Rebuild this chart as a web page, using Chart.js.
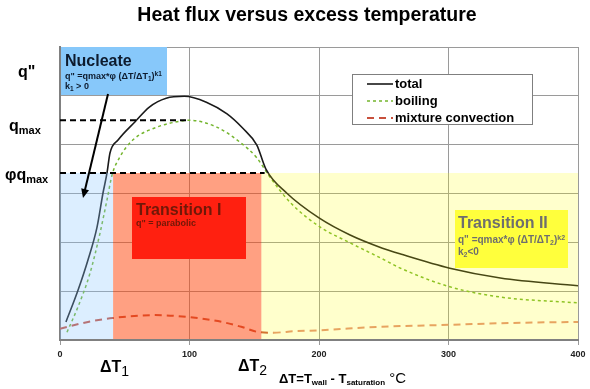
<!DOCTYPE html>
<html><head><meta charset="utf-8">
<script src="https://cdn.jsdelivr.net/npm/chart.js@4.4.0/dist/chart.umd.min.js"></script>
<style>html,body{margin:0;padding:0;background:#fff;}#wrap{width:590px;height:389px;}</style>
</head><body><div id="wrap"><canvas id="c" width="590" height="389"></canvas></div>
<script>
// ---- data ----
const xTicks = [0, 100, 200, 300, 400];
const totalX = [4.6, 13.9, 21.6, 28.6, 33.2, 36.3, 38.6, 45, 58, 69, 82, 96, 113, 129, 141, 152, 159, 175, 200, 224, 249, 263, 301, 340, 400];
const totalY = [0.37, 1.02, 1.64, 2.31, 3.01, 3.42, 3.83, 4.1, 4.47, 4.77, 4.95, 4.99, 4.87, 4.63, 4.34, 3.99, 3.5, 3.01, 2.5, 2.15, 1.88, 1.76, 1.47, 1.27, 1.11];
const boilX = [5.4, 13.9, 23.2, 30.9, 36.3, 40.2, 46.3, 56.4, 74.9, 92.7, 100, 121, 139, 152, 162, 178, 201, 224, 249, 263, 301, 340, 400];
const boilY = [0.16, 0.68, 1.37, 2.19, 2.87, 3.38, 3.75, 4.10, 4.36, 4.48, 4.5, 4.36, 4.05, 3.73, 3.34, 2.81, 2.31, 1.99, 1.66, 1.47, 1.09, 0.88, 0.76];
const mixX = [0, 21.6, 40.8, 73, 99, 125, 140, 154, 165, 181, 201, 247, 300, 350, 400];
const mixY = [0.23, 0.37, 0.45, 0.51, 0.47, 0.37, 0.27, 0.16, 0.15, 0.18, 0.2, 0.27, 0.31, 0.35, 0.37];
const qmax = 4.5, qmaxEnd = 100;
const phiQmax = 3.42, phiEnd = 158;
const deltaT1 = 41, deltaT2 = 155.5;
const seriesNames = ['total', 'boiling', 'mixture convection'];

const pts = (xs, ys) => xs.map((x, i) => ({x, y: ys[i]}));
const FONT = '"Liberation Sans", Arial, sans-serif';

function rich(ctx, x, y, parts, color) {
  let cx = x;
  ctx.fillStyle = color;
  ctx.textBaseline = 'alphabetic';
  ctx.textAlign = 'left';
  for (const p of parts) {
    ctx.font = `${p.w || 'bold'} ${p.s}px ${FONT}`;
    ctx.fillText(p.t, cx, y + (p.dy || 0));
    cx += ctx.measureText(p.t).width;
  }
}

const overlayPlugin = {
  id: 'overlay',
  beforeDatasetDraw(chart, args) {
    if (args.index !== 1) return;
    const {ctx, scales: {x, y}} = chart;
    const yt = y.getPixelForValue(phiQmax), yb = y.getPixelForValue(0) - 1;
    const regs = [
      [0, deltaT1, 'rgba(140,198,255,0.3)'],
      [deltaT1, deltaT2, 'rgba(255,65,5,0.5)'],
      [deltaT2, 400, 'rgba(255,255,0,0.2)']
    ];
    ctx.save();
    for (const [a, b, c] of regs) {
      const xa = x.getPixelForValue(a), xb = x.getPixelForValue(b);
      ctx.fillStyle = c;
      ctx.fillRect(xa, yt, xb - xa, yb - yt);
    }
    ctx.restore();
  },
  afterDraw(chart) {
    const ctx = chart.ctx;
    ctx.save();
    // title
    ctx.font = `bold 19.5px ${FONT}`;
    ctx.fillStyle = '#000';
    ctx.textAlign = 'center';
    ctx.textBaseline = 'alphabetic';
    ctx.fillText('Heat flux versus excess temperature', 307, 21);

    // Nucleate box
    ctx.fillStyle = '#87c8fa';
    ctx.fillRect(61, 47, 106, 48);
    rich(ctx, 65, 66, [{t: 'Nucleate', s: 16}], '#0d1b2e');
    rich(ctx, 65, 79, [{t: 'q" =qmax*φ (ΔT/ΔT', s: 9}, {t: '1', s: 6.5, dy: 2}, {t: ')', s: 9}, {t: 'k1', s: 6.5, dy: -3}], '#0d1b2e');
    rich(ctx, 65, 89, [{t: 'k', s: 9}, {t: '1', s: 6.5, dy: 2}, {t: ' > 0', s: 9}], '#0d1b2e');

    // Transition I box
    ctx.fillStyle = '#ff2010';
    ctx.fillRect(132, 197, 114, 62);
    rich(ctx, 136, 215, [{t: 'Transition I', s: 16}], '#701808');
    rich(ctx, 136, 226, [{t: 'q" = parabolic', s: 9}], '#701808');

    // Transition II box
    ctx.fillStyle = '#ffff3c';
    ctx.fillRect(455, 210, 113, 58);
    rich(ctx, 458, 228, [{t: 'Transition II', s: 16}], '#6e6e6e');
    rich(ctx, 458, 243, [{t: 'q" =qmax*φ (ΔT/ΔT', s: 10}, {t: '2', s: 7, dy: 2}, {t: ')', s: 10}, {t: 'k2', s: 7, dy: -3}], '#6e6e6e');
    rich(ctx, 458, 255, [{t: 'k', s: 10}, {t: '2', s: 7, dy: 2}, {t: '<0', s: 10}], '#6e6e6e');

    // arrow
    ctx.strokeStyle = '#000';
    ctx.fillStyle = '#000';
    ctx.lineWidth = 2;
    const x0 = 108, y0 = 94, x1 = 83, y1 = 198;
    const ang = Math.atan2(y1 - y0, x1 - x0);
    ctx.beginPath();
    ctx.moveTo(x0, y0);
    ctx.lineTo(x1 - 6 * Math.cos(ang), y1 - 6 * Math.sin(ang));
    ctx.stroke();
    ctx.beginPath();
    ctx.moveTo(x1, y1);
    ctx.lineTo(x1 - 9 * Math.cos(ang) + 4 * Math.sin(ang), y1 - 9 * Math.sin(ang) - 4 * Math.cos(ang));
    ctx.lineTo(x1 - 9 * Math.cos(ang) - 4 * Math.sin(ang), y1 - 9 * Math.sin(ang) + 4 * Math.cos(ang));
    ctx.closePath();
    ctx.fill();

    // legend
    ctx.fillStyle = '#fff';
    ctx.fillRect(352, 74, 180, 50);
    ctx.strokeStyle = '#7f7f7f';
    ctx.lineWidth = 1;
    ctx.strokeRect(352.5, 74.5, 180, 50);
    const styles = chart.data.datasets.slice(2);
    const ly = [84, 101, 118];
    styles.forEach((ds, i) => {
      ctx.save();
      ctx.strokeStyle = ds.borderColor;
      ctx.lineWidth = ds.borderWidth;
      ctx.setLineDash(ds.borderDash || []);
      ctx.beginPath();
      ctx.moveTo(367, ly[i]);
      ctx.lineTo(393, ly[i]);
      ctx.stroke();
      ctx.restore();
      ctx.font = `bold 13px ${FONT}`;
      ctx.fillStyle = '#000';
      ctx.textBaseline = 'middle';
      ctx.textAlign = 'left';
      ctx.fillText(seriesNames[i], 395, ly[i]);
    });

    // y labels
    rich(ctx, 18, 77, [{t: 'q"', s: 16}], '#000');
    rich(ctx, 9, 131, [{t: 'q', s: 16}, {t: 'max', s: 11, dy: 3}], '#000');
    rich(ctx, 5, 180, [{t: 'φq', s: 16}, {t: 'max', s: 11, dy: 3}], '#000');

    // x labels
    rich(ctx, 100, 372, [{t: 'ΔT', s: 16}, {t: '1', s: 14, w: 'normal', dy: 4}], '#000');
    rich(ctx, 238, 371, [{t: 'ΔT', s: 16}, {t: '2', s: 14, w: 'normal', dy: 4}], '#000');
    rich(ctx, 279, 383, [{t: 'ΔT=T', s: 13}, {t: 'wall', s: 8, dy: 2}, {t: ' - T', s: 13}, {t: 'saturation', s: 8, dy: 2}, {t: ' °C', s: 15, w: 'normal'}], '#000');
    ctx.restore();
  }
};

new Chart(document.getElementById('c'), {
  type: 'line',
  data: {
    datasets: [
      {label: 'qmax', data: [{x: 0, y: qmax}, {x: qmaxEnd, y: qmax}], borderColor: '#000', borderWidth: 2, borderDash: [6, 4], pointRadius: 0},
      {label: 'phi qmax', data: [{x: 0, y: phiQmax}, {x: phiEnd, y: phiQmax}], borderColor: '#000', borderWidth: 2, borderDash: [6, 4], pointRadius: 0},
      {label: seriesNames[0], data: pts(totalX, totalY), borderColor: '#1a1a1a', borderWidth: 1.6, pointRadius: 0, cubicInterpolationMode: 'monotone'},
      {label: seriesNames[1], data: pts(boilX, boilY), borderColor: '#74b52e', borderWidth: 1.5, borderDash: [3, 3], pointRadius: 0, cubicInterpolationMode: 'monotone'},
      {label: seriesNames[2], data: pts(mixX, mixY), borderColor: '#c8503c', borderWidth: 2, borderDash: [7, 5], pointRadius: 0, cubicInterpolationMode: 'monotone',
        segment: {borderColor: c => c.p0.parsed.x >= deltaT2 ? 'rgb(226,142,120)' : undefined}}
    ]
  },
  options: {
    responsive: false,
    animation: false,
    layout: {padding: {top: 47, right: 12, left: 0, bottom: 0}},
    plugins: {legend: {display: false}, title: {display: false}, tooltip: {enabled: false}},
    scales: {
      x: {
        type: 'linear', min: 0, max: 400,
        afterBuildTicks: s => { s.ticks = xTicks.map(v => ({value: v})); },
        afterFit: s => { s.height = 49; },
        ticks: {font: {size: 9, weight: 'bold', family: FONT}, color: '#222', padding: 4, maxRotation: 0},
        grid: {color: '#9a9a9a', lineWidth: 1, tickLength: 5},
        border: {color: '#808080', width: 2}
      },
      y: {
        min: 0, max: 6,
        ticks: {display: false, stepSize: 1},
        afterFit: s => { s.width = 60; },
        grid: {color: '#9a9a9a', lineWidth: 1, drawTicks: false},
        border: {color: '#808080', width: 2}
      }
    }
  },
  plugins: [overlayPlugin]
});
</script>
</body></html>
